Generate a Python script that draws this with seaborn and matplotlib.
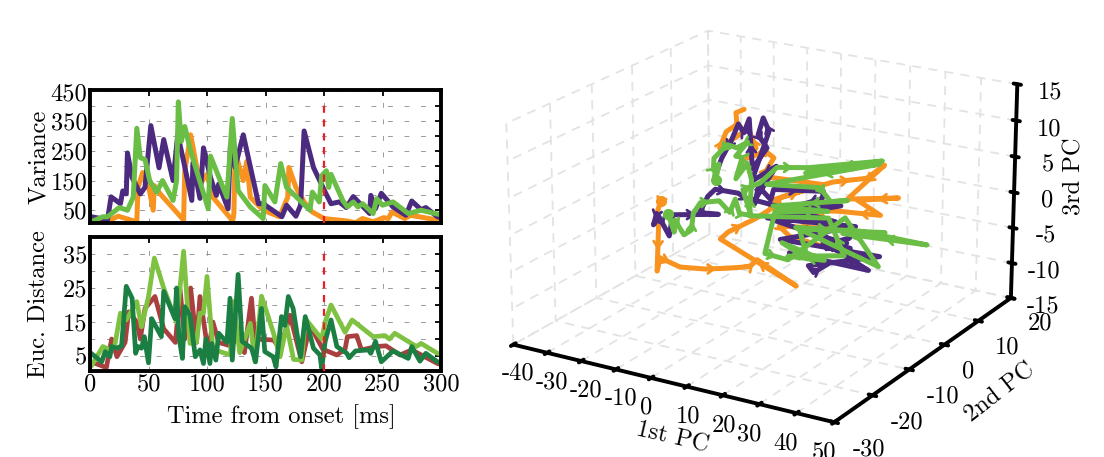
import numpy as np
import pandas as pd
import matplotlib
matplotlib.use('Agg')
import matplotlib.pyplot as plt
import seaborn as sns
from mpl_toolkits.mplot3d import proj3d

# variance traces
var_t_a = [1,15,18,26,28,31,32,36,43,47,52,59,63,71,75,80,87,88,94,97,103,108,110,118,120,124,131,144,148,164,168,176,180,183,191,201,206,213,219,225,239,240,244,249,259,270,275,283,287,297,300]
var_a = [28,18,95,72,115,105,243,160,105,127,335,193,288,150,305,215,83,210,90,260,160,100,138,55,265,195,304,72,72,28,67,30,67,317,194,111,72,78,59,96,39,100,55,107,61,33,81,52,59,28,25]
var_t_b = [1,20,24,40,41,45,50,54,55,60,80,81,86,94,100,105,122,123,124,127,131,134,137,148,162,169,170,176,183,190,200,219,227,233,242,251,255,258,269,274,297,300]
var_b = [11,22,30,11,127,177,133,50,133,105,17,182,304,138,171,94,14,40,249,205,150,215,94,50,28,94,194,127,78,44,22,14,8,22,11,25,22,44,22,33,17,15]
var_t_c = [1,11,15,25,32,37,40,43,47,51,57,62,71,74,75.5,78,81,86,101,103,117,121.6,126.6,137,148,149.5,158,163,168,188,190,196,198,202,204,206,216,220,225,229,233,242,245,250,259,272,283,297,300]
var_c = [11,28,28,59,50,94,326,227,221,150,111,150,83,150,415,282,332,249,55,232,94,359,116,61,22,133,78,207,127,50,111,78,166,183,127,171,83,61,78,61,72,39,89,67,78,39,50,37,35]

# distance traces
dist_t_a = [1,14,18.5,23,30,33,40,43,47,55.5,63,73,77,81,86,91,94,101,105,110,120,128,132,138,141,157,162.5,171,181,188,199,211,218,220,228,232,245,253,265,275,297,300]
dist_a = [3.3,1.6,10,4.8,9,18,15,10,19,22.5,13,9,24.5,10,25,9,22.5,6,15,9,8,11,6,22,10,9.7,7,17,3.3,14,7,5.3,7,10.7,11,6.8,7.8,8,5.3,6.8,2.8,2.5]
dist_t_b = [1,11,17,21,26,31,40,44,50,55,63,74,80,85.5,91,94,97,100,105,120,122.5,128,137,141,146.6,156.6,162.5,168,174,181,184,198,201,206,218,224,242,252,256,260.5,279,283,297,300]
dist_b = [2,7.8,6.8,7.8,17.6,15.6,21,13.6,22.5,33.8,25,15,35.8,8.7,9,17.6,17.6,28.4,7,5.3,21,6,14.6,3.3,22.6,12,4.8,14,4,3.8,16,10,15,20,12,15.6,10.7,11,10,11.7,7.8,8.7,5.8,5.5]
dist_t_c = [1,10,13,17,18.5,23,27,31,36,39,41,44,46.4,50,52.7,61,63,72.6,74,76,79,81,85.5,90,94,97,99,102.5,104,107.6,110,117,119.7,121.6,126.6,130,138,141.5,146.6,149.4,156.5,159,163.7,166.6,169.5,173.6,180,184,191,196.5,198,201,206,211,219.5,221.5,227,238,240,244,249,259,272,275,282,287,297,300]
dist_c = [5.8,3.3,6.3,4.8,7.8,7.3,8,25.5,22,5.8,7.8,7.3,10.7,3,16,10.7,24,16,25,10.7,4.3,19.5,17,4.8,6.8,2.8,10,2.8,8.7,3.8,11.7,9,22,3.8,29,9.3,7.3,3.3,19,6.3,4.8,1.8,16.6,14,22.5,19,4.8,16.6,7.3,5.3,1.4,9.3,15.6,7.8,5.8,4.5,6.5,6.8,5.8,9.3,3.3,6.5,4.3,7.8,3.5,5.8,3.3,3]

# trajectories in PC space
pc1_b = [-26,-27,-26.8,-27.4,-26.4,-20.5,-13,-6.5,0,2.2,13.4,-8.5,-6.25,1.8,7.2,8.9,23.5,32.8,37.6,27.6,41.5,30.4,36.7,25,15.7,28.6,8.5,11.5,27.7,18.8,7,20.8,3.8,-3.8,-6.2,-11.7,-9,-11.3,-19.8,-17.8,-14.6,-14.9,-12.5]
pc2_b = [-5,-5,-5,-5,-5,-5,-5,-5,-5,-5,-5,-5,-5,-5,-5,-5,-5,-5,-5,-5,-5,-5,-5,-5,-5,-5,-5,-5,-5,-5,-5,-5,-5,5,5,5,5,5,5,5,5,5,5]
pc3_b = [-1.3,-2.8,-5.3,-11.4,-9.4,-10.1,-9.6,-8.8,-7.9,-6.7,-9.2,-4.9,-3.7,-1,1.2,2.6,6.1,7.5,9.7,4.2,5.7,4.3,2.9,2.3,1.5,0.2,-1.4,-2.5,-3.2,-1.1,2.1,5.5,5,4,4.7,3.2,4.9,7.4,3.9,6.4,7.7,9.3,10]

pc1_a = [-27.3,-28.3,-26.6,-23.6,-22.5,-9,-14.5,-12.1,-9.9,-3.3,-1.9,1.5,2.6,6.1,6.9,20.9,20.6,12.8,25.8,5.1,29.9,8.8,36.6,16.8,18.3,22.3,11.4,33.6,20.9,28.5,22,28.3,20.5,27.5,20.8,6.5,24.3,1.5,-3.1,-10.3,-5.2,-6.9,-8.4,-5.8,-10.1,-11,-12.6,-14.2,-16.2,-19.2,-20.3]
pc2_a = [-5,-5,-5,-5,-5,-5,-5,-5,-5,-5,-5,-5,-5,-5,-5,-5,-5,-5,-5,-5,-5,-5,-5,-5,-5,-5,-5,-5,-5,-5,-5,-5,-5,-5,-5,-5,-5,-5,5,5,5,5,5,5,5,5,5,5,5,5,5]
pc3_a = [-3.2,-4.9,-3.6,-6,-2.9,-1.5,-1.8,0.7,1.9,2,1.7,1,3.5,2,3.5,4.6,3.6,1.7,3.1,-0.6,0.7,-3.2,-2.7,-6,-6.8,-5.2,-4.8,-4.9,-2.3,-2.4,-3.1,-1,-2.9,-1.8,-1.6,-0.7,0.8,1.5,2.9,0.1,7.6,9.3,6.8,5.2,1.9,8.8,6.7,7.8,5.4,2.5,1]

pc1_c = [-23.9,-22.1,-21.9,-19.2,-17,-16.4,-14.3,-8.8,-5.7,-4.1,-2.9,0.4,-1.9,3,7.85,16.7,37,15.9,36.2,4.9,19.9,22.9,27.6,6.7,22.2,7.3,4.4,11,27,36.3,13.2,31,49.4,26.4,38,14.2,16.6,9.3,21.3,11,26.8,22.4,0,0.6,-11.6,-15,-13.1,-15,-11.5,-14.7,-17.5,-21.5,-21.7,-20,-21]
pc2_c = [-5,-5,-5,-5,-5,-5,-5,-5,-5,-5,-5,-5,-5,-5,-5,-5,-5,-5,-5,-5,-5,-5,-5,-5,-5,-5,-5,-5,-5,-5,-5,-5,-5,-5,-5,-5,-5,-5,-5,-5,-5,-5,-5,-5,5,5,5,5,5,5,5,5,5,5,5]
pc3_c = [-2.9,-5.3,-3.6,-5.4,-4.5,-2.1,-0.4,0.4,-0.9,1.1,-0.8,-0.7,2.6,4,6.6,7.4,10.2,6.6,9.7,4,5,3.4,4,1.2,2,0.5,-5.6,-5.8,1.6,-4.1,-1.1,0.2,0.2,-0.6,0.7,-1.2,-5.1,-3.6,-4.8,-5.3,-3.6,1.1,-0.8,4.2,2.5,0,3.2,3.2,5.5,4.4,4.6,2.3,0.6,1.6,-0.7]

var_ticks = [50,100,150,200,250,300,350,400,450]
var_labels = ['50','','150','','250','','350','','450']
dist_ticks = [5,10,15,20,25,30,35]
dist_labels = ['5','','15','','25','','35']
time_ticks = [0,50,100,150,200,250,300]
pc1_ticks = [-40,-30,-20,-10,0,10,20,30,40,50]
pc2_ticks = [-30,-20,-10,0,10,20]
pc3_ticks = [-15,-10,-5,0,5,10,15]

purple = '#4B2A80'
orange = '#F7931E'
green = '#6ABD45'

sns.set_style('white')
plt.rcParams['font.family'] = ['cmr10', 'DejaVu Serif']
plt.rcParams['axes.unicode_minus'] = False
plt.rcParams['axes.formatter.use_mathtext'] = True
plt.rcParams['text.color'] = 'black'
plt.rcParams['axes.labelcolor'] = 'black'
plt.rcParams['xtick.color'] = 'black'
plt.rcParams['ytick.color'] = 'black'

fig = plt.figure(figsize=(11.04, 4.57), dpi=100)
W, H = 1104.0, 457.0
FS = 17.6


def panel(top, bottom):
    return fig.add_axes([90 / W, 1 - bottom / H, 351 / W, (bottom - top) / H])


def style_panel(ax, yticks, ylabels, ylim, ylabel):
    ax.set_xlim(0, 300)
    ax.set_ylim(*ylim)
    ax.set_xticks(time_ticks)
    ax.set_yticks(yticks)
    ax.set_yticklabels(ylabels)
    ax.grid(True, color='#999999', linestyle=(0, (5, 12)), linewidth=0.7)
    ax.set_axisbelow(True)
    ax.tick_params(direction='in', length=4, width=1.3, top=True, right=True, labelsize=FS, pad=2, colors='black')
    for s in ax.spines.values():
        s.set_linewidth(2.8)
        s.set_color('black')
    ax.set_ylabel(ylabel, fontsize=FS)
    ax.yaxis.set_label_coords(-0.114, 0.5)
    ax.axvline(200, ymax=0.92, color='#EE1C25', linestyle=(0, (3.2, 3)), linewidth=1.6, zorder=5)


ax1 = panel(90, 223)
for t, v, c in [(var_t_b, var_b, orange), (var_t_a, var_a, purple), (var_t_c, var_c, green)]:
    sns.lineplot(data=pd.DataFrame({'t': t, 'v': v}), x='t', y='v', color=c, lw=3.6, sort=False, estimator=None,
                 solid_joinstyle='round', ax=ax1)
style_panel(ax1, var_ticks, var_labels, (7, 455), 'Variance')
ax1.set_xticklabels([])
ax1.set_xlabel('')

ax2 = panel(237, 371)
for t, v, c in [(dist_t_a, dist_a, '#A9403F'), (dist_t_b, dist_b, '#7FC241'), (dist_t_c, dist_c, '#1B7F43')]:
    sns.lineplot(data=pd.DataFrame({'t': t, 'v': v}), x='t', y='v', color=c, lw=3.4, sort=False, estimator=None,
                 solid_joinstyle='round', ax=ax2)
style_panel(ax2, dist_ticks, dist_labels, (0.6, 40), 'Euc. Distance')
ax2.set_xticklabels([str(t) for t in time_ticks])
ax2.set_xlabel('Time from onset [ms]', fontsize=FS)
ax2.xaxis.set_label_coords(0.545, -0.25)

# 3d part
ax3 = fig.add_axes([407 / W, -40 / H, 705 / W, 552 / H], projection='3d')
ax3.computed_zorder = False
ax3.set_proj_type('persp', focal_length=1.0)
ax3.view_init(elev=20, azim=-59)
ax3.set_box_aspect((1, 1, 0.63), zoom=1.0)
ax3.set_xlim(-40, 50)
ax3.set_ylim(-30, 20)
ax3.set_zlim(-15, 15)
ax3.patch.set_alpha(0)

trajs = [(pc1_b, pc2_b, pc3_b, orange, [0], 1), (pc1_a, pc2_a, pc3_a, purple, [], 2), (pc1_c, pc2_c, pc3_c, green, [0, -1], 3)]
for xs, ys, zs, c, ends, z in trajs:
    ax3.plot(xs, ys, zs, color=c, lw=3.6, marker='o', ms=7, markevery=ends, zorder=z, solid_capstyle='round', solid_joinstyle='round')

ax3.set_xticks(pc1_ticks)
ax3.set_yticks(pc2_ticks)
ax3.set_zticks(pc3_ticks)
ax3.set_xticklabels([str(v) for v in pc1_ticks])
ax3.set_yticklabels([str(v) for v in pc2_ticks])
ax3.set_zticklabels([str(v) for v in pc3_ticks])
ax3.tick_params(labelsize=FS, pad=3)
ax3.tick_params(axis='z', pad=6)
# labels sit more to the right of their ticks on the two floor axes
for lab, v in zip(ax3.get_xticklabels(), pc1_ticks):
    lab.set_ha('left' if v <= 20 else 'center')
for lab in ax3.get_yticklabels():
    lab.set_ha('left')
for axis in (ax3.xaxis, ax3.yaxis, ax3.zaxis):
    axis.set_pane_color((1, 1, 1, 0))
    axis.line.set_color('black')
    axis.line.set_linewidth(2.8)
    axis._axinfo['tick']['inward_factor'] = 0.14
    axis._axinfo['tick']['outward_factor'] = 0.14
    axis._axinfo['tick']['linewidth'] = {True: 2.8, False: 1}
    axis._axinfo['tick']['color'] = 'black'
    axis._axinfo['grid']['color'] = '#e3e3e3'
    axis._axinfo['grid']['linewidth'] = 1.3
    axis._axinfo['grid']['linestyle'] = (0, (5, 4))

# axis names placed by hand, the 3d label positions land too far left
fig.text(672 / W, 1 - 438 / H, '1st PC', fontsize=FS, rotation=-13, ha='center', va='center')
fig.text(1000 / W, 1 - 393 / H, '2nd PC', fontsize=FS, rotation=38, ha='center', va='center')
fig.text(1074 / W, 1 - 176 / H, '3rd PC', fontsize=FS, rotation=90, ha='center', va='center')

# chevrons along the trajectories
M = ax3.get_proj()
for xs, ys, zs, c, ends, z in trajs:
    px, py, _ = proj3d.proj_transform(np.array(xs, float), np.array(ys, float), np.array(zs, float), M)
    for i in range(0, len(px) - 1, 2):
        mx, my = (px[i] + px[i + 1]) / 2, (py[i] + py[i + 1]) / 2
        ax3.annotate('', xy=(mx, my), xytext=(px[i], py[i]), zorder=z,
                     arrowprops=dict(arrowstyle='->,head_length=0.45,head_width=0.32', color=c, lw=2, shrinkA=0, shrinkB=0))

fig.savefig('out.png', dpi=100)
